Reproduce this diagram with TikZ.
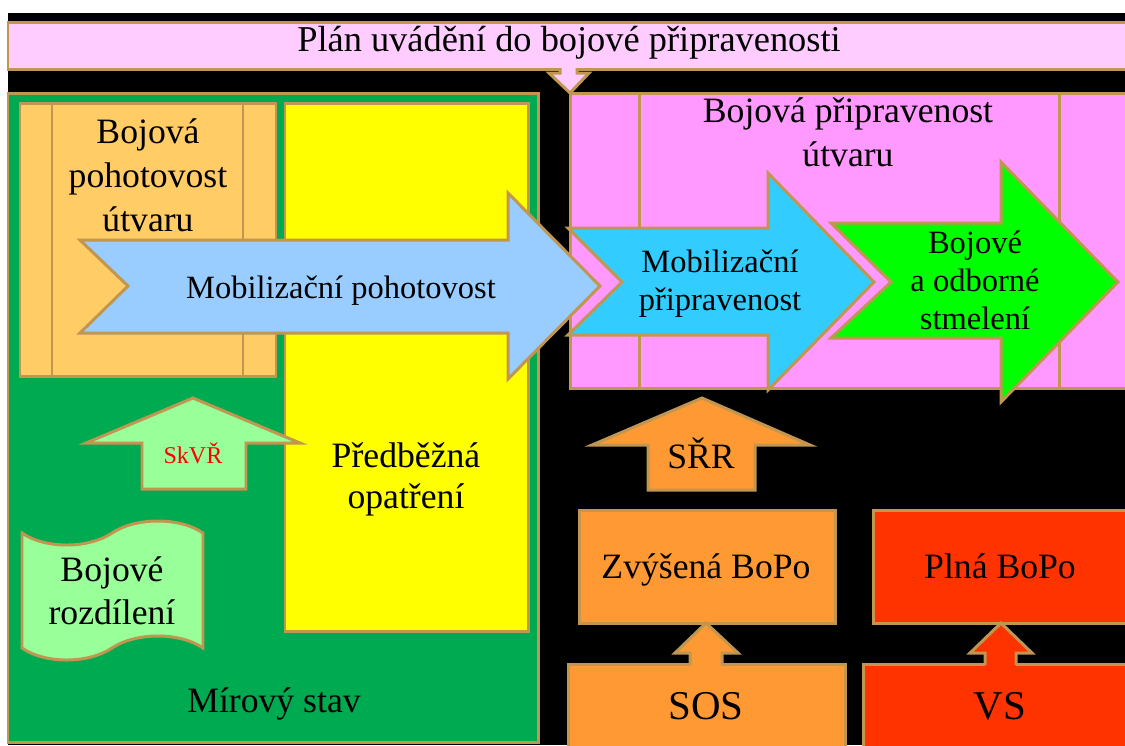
\documentclass[tikz,border=0pt]{standalone}
\usepackage{fontspec}
\setmainfont{Liberation Serif}
\definecolor{rim}{RGB}{192,150,80}
\definecolor{planpink}{RGB}{255,204,255}
\definecolor{readypink}{RGB}{255,153,255}
\definecolor{peacegreen}{RGB}{0,170,80}
\definecolor{bopoorange}{RGB}{255,204,102}
\definecolor{prepyellow}{RGB}{255,255,0}
\definecolor{mobblue}{RGB}{153,204,255}
\definecolor{mobcyan}{RGB}{51,204,255}
\definecolor{brightgreen}{RGB}{0,255,0}
\definecolor{palegreen}{RGB}{153,255,153}
\definecolor{sosorange}{RGB}{255,153,51}
\definecolor{vsred}{RGB}{255,51,0}

\begin{document}
\begin{tikzpicture}[
    x=0.02cm, y=-0.02cm,
    line width=1.7pt,
    plate/.style={
        draw=rim,
        },
    lbl/.style={
        inner sep=0pt,
        font=\fontsize{20.3}{25}\selectfont,
        },
    small/.style={
        inner sep=0pt,
        align=center,
        font=\fontsize{18.5}{21.5}\selectfont,
        },
    big/.style={
        inner sep=0pt,
        font=\fontsize{23.3}{28}\selectfont,
        },
]

\useasboundingbox (0,0) rectangle (1125,745);
\clip (0,0) rectangle (1125,745);
\fill[black] (8,13) rectangle (1125,745);

% plan banner
\draw[plate, fill=planpink] (8,22) rectangle (1140,69);
\node[lbl, anchor=base, font=\fontsize{20.7}{25}\selectfont](plan) at (569,51) {Plán uvádění do bojové připravenosti};
\fill[planpink] (560,66) -- (560,73) -- (549,73) -- (570,93) -- (589,73) -- (577,73) -- (577,66) -- cycle;
\draw[rim] (560,68) -- (560,73) -- (549,73) -- (570,93) -- (589,73) -- (577,73) -- (577,68);

% peace state
\draw[plate, fill=peacegreen] (8,93) rectangle (538,742);
\draw[plate, fill=bopoorange] (20,103) rectangle (276,376);
\draw[rim] (52,103) -- (52,376);
\draw[rim] (243,103) -- (243,376);
\node[lbl, align=center](bopo) at (148,175.5) {Bojová\\pohotovost\\útvaru};
\draw[plate, fill=prepyellow] (285,103) rectangle (528,631);
\node[lbl, align=center, font=\fontsize{20.3}{23.3}\selectfont](preds) at (406,479) {Předběžná\\opatření};
\node[lbl, anchor=base](peace) at (274,712) {Mírový stav};

% readiness
\draw[plate, fill=readypink] (570,93) rectangle (1140,388);
\draw[rim] (639,93) -- (639,388);
\draw[rim] (1059,93) -- (1059,388);
\node[lbl, align=center](ready) at (848,132.5) {Bojová připravenost\\útvaru};

\draw[plate, fill=mobcyan] (568,228) -- (768,228) -- (768,173) -- (874,282) -- (768,390)
    -- (768,335) -- (568,335) -- (622,282) -- cycle;
\node[small](mobready) at (720,283.5) {Mobilizační\\připravenost};
\draw[plate, fill=brightgreen] (831,223) -- (1001,223) -- (1001,162) -- (1118,282) -- (1001,402)
    -- (1001,338) -- (831,338) -- (891,282) -- cycle;
\node[small](merge) at (975,280.5) {Bojové\\a odborné\\stmelení};

\draw[plate, fill=mobblue] (80,240) -- (508,240) -- (508,193) -- (600,286) -- (508,379)
    -- (508,333) -- (80,333) -- (128,286) -- cycle;
\node[small, anchor=base](mobpoh) at (341,298) {Mobilizační pohotovost};

% SkVR and division
\draw[plate, fill=palegreen] (193,398) -- (300,443) -- (246,443) -- (246,489) -- (142,489)
    -- (142,443) -- (86,443) -- cycle;
\node[lbl, anchor=base, text=red, font=\fontsize{13.7}{16}\selectfont](skvr) at (193,463) {SkVŘ};
\draw[plate, fill=palegreen] (22,533) .. controls (45,549) and (88,549) .. (112,533)
    .. controls (136,517) and (180,517) .. (203,533) -- (203,648)
    .. controls (180,632) and (136,632) .. (112,648)
    .. controls (88,664) and (45,664) .. (22,648) -- cycle;
\node[lbl, align=center, font=\fontsize{20.3}{24.5}\selectfont](div) at (112,591) {Bojové\\rozdílení};

% SRR, states
\draw[plate, fill=sosorange] (702,398) -- (810,445) -- (755,445) -- (755,490) -- (648,490)
    -- (648,445) -- (592,445) -- cycle;
\node[lbl, anchor=base](srr) at (701,468) {SŘR};

\draw[plate, fill=sosorange] (579,510) rectangle (835,623);
\node[lbl, anchor=base](zvys) at (706,578) {Zvýšená BoPo};
\draw[plate, fill=vsred] (873,510) rectangle (1140,623);
\node[lbl, anchor=base](plna) at (1000,578) {Plná BoPo};

\draw[plate, fill=sosorange] (568,664) rectangle (845,760);
\node[big, anchor=base](sos) at (706,719) {SOS};
\draw[plate, fill=vsred] (863,664) rectangle (1140,760);
\node[big, anchor=base](vs) at (1000,719) {VS};

\fill[sosorange] (690,667) -- (690,653) -- (675,653) -- (706,623) -- (738,653) -- (722,653) -- (722,667) -- cycle;
\draw[rim] (690,665) -- (690,653) -- (675,653) -- (706,623) -- (738,653) -- (722,653) -- (722,665);
\fill[vsred] (985,667) -- (985,653) -- (970,653) -- (1001,623) -- (1032,653) -- (1016,653) -- (1016,667) -- cycle;
\draw[rim] (985,665) -- (985,653) -- (970,653) -- (1001,623) -- (1032,653) -- (1016,653) -- (1016,665);

\end{tikzpicture}
\end{document}
